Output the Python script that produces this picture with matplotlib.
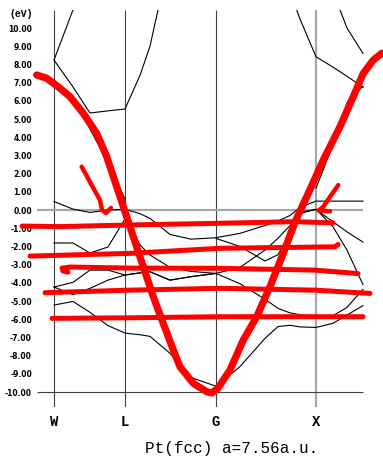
import numpy as np
import matplotlib
matplotlib.use("Agg")
import matplotlib.pyplot as plt

# k-path positions (W-L-G-X-W), G-X = 1
kpts = [0, 0.19, 0.36, 0.54, 0.71, 0.86, 0.96, 1.16, 1.37, 1.62,
        1.86, 2.11, 2.24, 2.36, 2.46, 2.62, 2.79, 2.93, 3.09]
sym_pos = [0, 0.71, 1.62, 2.62]
sym_labels = ["W", "L", "G", "X"]
nan = np.nan

# band energies (eV) at each k point
band_bottom = [-5.22, -5.02, -5.62, -6.35, -6.76, -6.85, -6.94, -7.87, -9.2, -9.68,
               -8.6, -7.05, -6.4, -6.33, -6.42, -6.45, -6.22, -5.77, -5.25]
band_d1 = [-4.23, -4.65, -4.3, -3.85, -3.57, -3.45, -3.39, -3.85, -3.66, -3.48,
           -4.05, -4.9, -5.4, -5.65, -5.75, -5.85, -5.8, -5.35, -4.35]
band_d2 = [-4.23, -3.97, -3.3, -3.3, -3.57, -3.45, -3.39, -3.85, -3.66, -3.48,
           -3.15, -2.2, -1.55, -0.85, -0.2, 0.05, -0.92, -2.2, -4.1]
band_d3 = [-1.81, -1.81, -2.36, -2.03, -0.49, -1.92, -2.47, -3.15, -3.37, -3.48,
           nan, nan, nan, nan, nan, nan, nan, nan, nan]
band_d4 = [nan, nan, nan, nan, nan, nan, nan, nan, nan, -1.56,
           -2.0, -2.8, -2.45, -1.3, -0.1, 0.02, -0.64, -1.2, -1.76]
band_d5 = [0.47, 0.05, -0.13, 0.0, 0.04, -0.2, -0.46, -1.34, -1.6, -1.52,
           -1.28, -0.85, -0.6, -0.3, 0.15, 0.49, 0.49, 0.49, 0.49]
band_sp = [6.98, 6.2, 4.45, 2.6, 0.6, nan, nan, nan, nan, nan,
           nan, nan, nan, nan, nan, nan, nan, nan, nan]
band_u1 = [8.24, 11.0, nan, nan, nan, nan, nan, nan, nan, nan,
           nan, nan, nan, nan, nan, nan, nan, nan, nan]
band_u2 = [8.24, 6.76, 5.33, 5.45, 5.55, 7.4, 9.0, 14.0, nan, nan,
           nan, nan, nan, nan, nan, nan, nan, nan, nan]
band_u3 = [nan, nan, nan, nan, nan, nan, nan, nan, nan, nan,
           nan, nan, nan, 12.0, 10.5, 8.42, 7.85, 7.35, 6.75]
band_u4 = [nan, nan, nan, nan, nan, nan, nan, nan, nan, nan,
           nan, nan, nan, nan, nan, nan, 12.0, 10.0, 8.6]
band_u5 = [nan, nan, nan, nan, nan, nan, nan, nan, nan, nan,
           nan, nan, nan, nan, nan, 1.2, 3.6, 5.9, 6.8]
bands = [band_bottom, band_d1, band_d2, band_d3, band_d4, band_d5,
         band_sp, band_u1, band_u2, band_u3, band_u4, band_u5]

# hand drawn red marks (k, eV)
red_curve_k = [-0.173, -0.073, 0.043, 0.16, 0.293, 0.427, 0.527, 0.627, 0.727, 0.86,
               0.993, 1.093, 1.193, 1.26, 1.393, 1.527, 1.58, 1.64, 1.76, 1.893,
               2.027, 2.16, 2.293, 2.41, 2.527, 2.693, 2.86, 2.993, 3.093, 3.193, 3.277]
red_curve_e = [7.42, 7.24, 6.77, 6.23, 5.31, 4.21, 2.93, 1.28, -0.37, -2.57,
               -4.76, -6.23, -7.69, -8.61, -9.52, -9.98, -10.05, -9.78, -8.79, -7.14,
               -5.86, -4.21, -2.38, -0.66, 0.73, 2.75, 4.58, 6.23, 7.51, 8.24, 8.61]
red_h1 = ([-0.32, 0.06, 0.76, 1.63, 2.39, 2.79], [-0.88, -0.91, -0.82, -0.73, -0.64, -0.70])
red_h2 = ([-0.24, 0.76, 1.66, 2.81, 2.84], [-2.53, -2.38, -2.10, -2.02, -1.89])
red_h3 = ([0.14, 0.09, 0.08, 0.16, 0.76, 1.66, 2.61, 3.04],
          [-3.41, -3.35, -3.19, -3.13, -3.19, -3.20, -3.30, -3.49])
red_h4 = ([-0.09, 0.76, 1.66, 2.61, 3.16], [-4.54, -4.40, -4.30, -4.40, -4.58])
red_h5 = ([-0.02, 0.76, 1.66, 2.61, 3.09], [-5.95, -5.92, -5.86, -5.86, -5.86])
red_arrow_l = ([0.277, 0.377, 0.46, 0.48, 0.52, 0.57], [2.38, 1.37, 0.55, 0.0, -0.16, 0.11])
red_arrow_r = ([2.843, 2.76, 2.693, 2.645, 2.76], [1.37, 0.73, 0.18, -0.03, -0.07])

fig = plt.figure(figsize=(3.83, 4.59), dpi=100)
ax = fig.add_axes([37 / 383, 1 - 407 / 459, 346 / 383, 397 / 459])
ax.set_xlim(-0.17, 3.29)
ax.set_ylim(-10.82, 10.99)
for s in ax.spines.values():
    s.set_visible(False)

# frame lines
ax.vlines(sym_pos[:3], -10.82, 10.99, color="#404040", lw=0.8)
ax.vlines(sym_pos[3], -10.82, 10.99, color="#a8a8a8", lw=1.6)
ax.hlines(0, -0.17, 3.09, color="#a8a8a8", lw=1.6)
ax.hlines(-10, -0.17, 3.09, color="#404040", lw=0.8)

for b in bands:
    ax.plot(kpts, b, color="black", lw=0.8)

# red annotations
red = dict(color="#ff0000", solid_capstyle="round", solid_joinstyle="round", clip_on=False)
ax.plot(red_curve_k, red_curve_e, lw=5.2, **red)
for k, e in [red_h1, red_h2, red_h3, red_h4, red_h5]:
    ax.plot(k, e, lw=3.6, **red)
for k, e in [red_arrow_l, red_arrow_r]:
    ax.plot(k, e, lw=3.2, **red)

ax.set_yticks(range(-10, 11))
ax.set_yticklabels([f"{v:.2f}" for v in range(-10, 11)],
                   fontfamily="DejaVu Sans", fontweight="bold", fontsize=5.5)
ax.set_xticks(sym_pos)
ax.set_xticklabels(sym_labels, fontfamily="Liberation Mono", fontweight="bold", fontsize=10)
ax.tick_params(axis="y", length=0, pad=3.6)
ax.tick_params(axis="x", length=0, pad=6)

fig.text(21.5 / 383, 1 - 14 / 459, "(eV)", ha="center", va="center",
         fontfamily="Liberation Mono", fontweight="bold", fontsize=7)
fig.text(231.5 / 383, 1 - 449 / 459, "Pt(fcc) a=7.56a.u.", ha="center", va="center",
         fontfamily="Liberation Mono", fontsize=11.5)

fig.savefig("out.png", dpi=100)
